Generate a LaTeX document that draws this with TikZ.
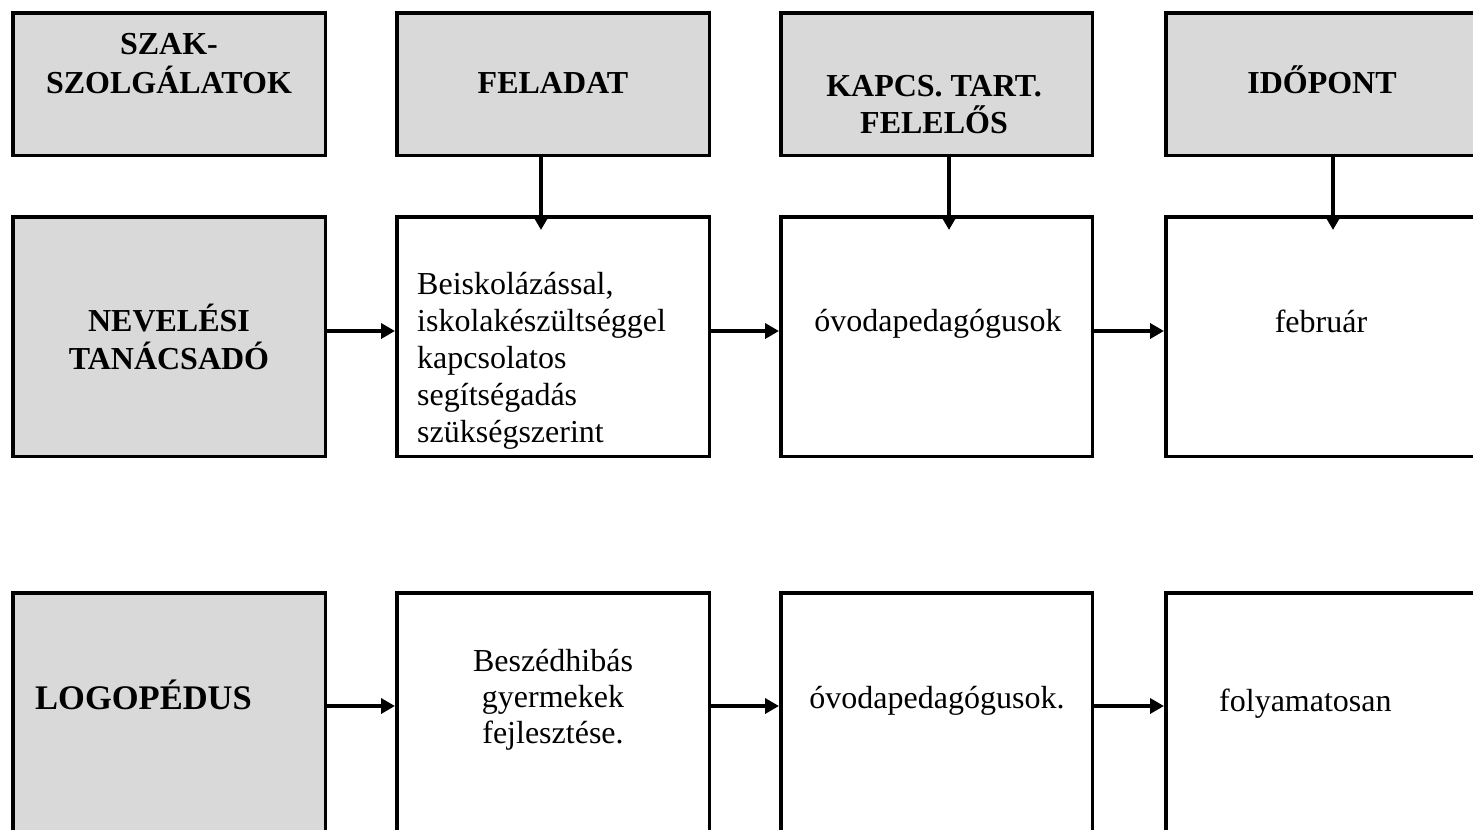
\documentclass[tikz,border=0pt]{standalone}
\usepackage{fontspec}
\setmainfont{Liberation Serif}
\usetikzlibrary{arrows.meta}
\definecolor{cellgray}{RGB}{217,217,217}
% stacked lines whose first baseline is the baseline of the node
\newcommand\cellstack[2][c]{\begin{tabular}[t]{@{}#1@{}}#2\end{tabular}}
\begin{document}
\begin{tikzpicture}[x=1pt,y=-1pt,
  box/.style={draw=black, line width=3.5pt, rectangle, inner sep=0pt, outer sep=1.75pt, anchor=north west},
  greybox/.style={box, fill=cellgray},
  whitebox/.style={box, fill=white},
  colone/.style={minimum width=312.5pt},
  coltwo/.style={minimum width=312.5pt},
  colthree/.style={minimum width=311.5pt},
  colfour/.style={minimum width=312.5pt},
  rowone/.style={minimum height=142.5pt},
  rowtwo/.style={minimum height=239.5pt},
  rowthree/.style={minimum height=241.5pt},
  headtext/.style={font=\bfseries\fontsize{32}{37}\selectfont, inner sep=0pt, anchor=base},
  bodytext/.style={font=\fontsize{32}{36}\selectfont, inner sep=0pt, anchor=base},
  arr/.style={line width=4pt, -{Triangle[length=14pt,width=15pt]}}
]
\useasboundingbox (0,0) rectangle (1473,830);
\fill[white] (0,0) rectangle (1473,830);
\clip (0,0) rectangle (1473,830);

% header row
\node[greybox, colone,   rowone] (hA) at (11,11)   {};
\node[greybox, coltwo,   rowone] (hB) at (395,11)  {};
\node[greybox, colthree, rowone] (hC) at (779,11)  {};
\node[greybox, colfour,  rowone] (hD) at (1164,11) {};

% second row
\node[greybox,  colone,   rowtwo] (rA) at (11,215)   {};
\node[whitebox, coltwo,   rowtwo] (rB) at (395,215)  {};
\node[whitebox, colthree, rowtwo] (rC) at (779,215)  {};
\node[whitebox, colfour,  rowtwo] (rD) at (1164,215) {};

% third row
\node[greybox,  colone,   rowthree] (sA) at (11,591)   {};
\node[whitebox, coltwo,   rowthree] (sB) at (395,591)  {};
\node[whitebox, colthree, rowthree] (sC) at (779,591)  {};
\node[whitebox, colfour,  rowthree] (sD) at (1164,591) {};

% header texts
\node[headtext] (thA) at (169,54.5) {\cellstack{SZAK-\\SZOLGÁLATOK}};
\node[headtext] (thB) at (553,93.5) {FELADAT};
\node[headtext, font=\bfseries\fontsize{32}{33}\selectfont] (thC) at (934,96) {\cellstack{KAPCS. TART.\\FELELŐS}};
\node[headtext] (thD) at (1322,93.5) {IDŐPONT};

% second row texts
\node[headtext, font=\bfseries\fontsize{32}{36}\selectfont] (trA) at (169,331.5) {\cellstack{NEVELÉSI\\TANÁCSADÓ}};
\begin{scope}
  \clip (397,218) rectangle (709,450);
  \node[bodytext, anchor=base west, font=\fontsize{32}{37}\selectfont] (trB) at (417,294)
    {\cellstack[l]{Beiskolázással,\\iskolakészültséggel\\kapcsolatos\\segítségadás\\szükségszerint}};
\end{scope}
\node[bodytext] (trC) at (938,331) {óvodapedagógusok};
\node[bodytext] (trD) at (1321,332) {február};

% third row texts
\node[headtext, anchor=base west, font=\bfseries\fontsize{34.5}{37}\selectfont] (tsA) at (35,709.5) {LOGOPÉDUS};
\node[bodytext] (tsB) at (553,671) {\cellstack{Beszédhibás\\gyermekek\\fejlesztése.}};
\node[bodytext] (tsC) at (937,708) {óvodapedagógusok.};
\node[bodytext, anchor=base west] (tsD) at (1219,711) {folyamatosan};

% connectors from the headers down into the second row
\coordinate (tipB) at (541,230);
\coordinate (tipC) at (949,230);
\coordinate (tipD) at (1333,230);
\draw[arr] (hB.south -| tipB) -- (tipB);
\draw[arr] (hC.south -| tipC) -- (tipC);
\draw[arr] (hD.south -| tipD) -- (tipD);

% connectors along the rows
\coordinate (ytwo) at (0,331);
\coordinate (ythree) at (0,706);
\draw[arr] (rA.east |- ytwo) -- (rB.west |- ytwo);
\draw[arr] (rB.east |- ytwo) -- (rC.west |- ytwo);
\draw[arr] (rC.east |- ytwo) -- (rD.west |- ytwo);
\draw[arr] (sA.east |- ythree) -- (sB.west |- ythree);
\draw[arr] (sB.east |- ythree) -- (sC.west |- ythree);
\draw[arr] (sC.east |- ythree) -- (sD.west |- ythree);
\end{tikzpicture}
\end{document}
